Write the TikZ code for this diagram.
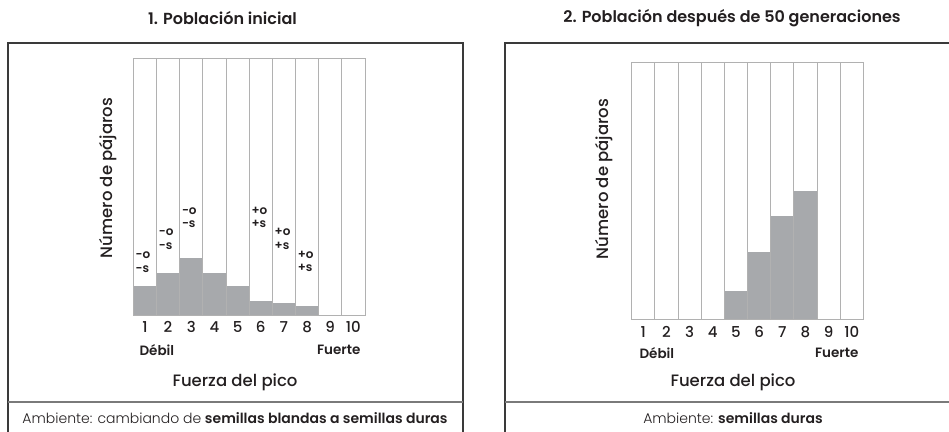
\documentclass[tikz,border=0pt]{standalone}
\usepackage{fontspec}
\setmainfont{Poppins}[BoldFont={Poppins SemiBold}]
\newfontfamily\lightfont{Poppins Light}
\newfontfamily\mediumfont{Poppins Medium}
\usetikzlibrary{positioning}
\definecolor{barfill}{HTML}{A7A9AC}
\definecolor{barline}{HTML}{B1B1B1}
\definecolor{framegray}{HTML}{3A3A3A}
\definecolor{rulegray}{HTML}{7A7A7A}
\definecolor{inkdark}{HTML}{231F20}
\begin{document}
\begin{tikzpicture}[x=1pt,y=-1pt,
  every node/.style={text=inkdark},
  frame/.style={draw=framegray,line width=1.3pt},
  divider/.style={draw=rulegray,line width=1.2pt},
  column/.style={draw=barline,line width=0.9pt},
  title/.style={font=\bfseries\fontsize{16}{18}\selectfont},
  axislabel/.style={font=\fontsize{16.5}{19}\selectfont},
  tick/.style={font=\mediumfont\fontsize{15}{18}\selectfont},
  endlabel/.style={font=\bfseries\fontsize{13.5}{15}\selectfont},
  tag/.style={font=\bfseries\fontsize{12}{13.5}\selectfont,align=left,inner sep=0pt},
  caption/.style={font=\fontsize{14}{16}\selectfont}]
\useasboundingbox (0,0) rectangle (949,431);

% 1. Poblacion inicial
\node[title] (title1) at (222.5,18) {1. Población inicial};
\draw[frame] (8,440) |- (463,43) -- (463,440);
\draw[divider] (8,402) -- (463,402);
\foreach \h [count=\i from 0] in {29,42.3,57.3,42.3,29,14.3,12.3,9,0,0} {
  \fill[barfill] ({133.3+23.17*\i},315) rectangle ++(23.17,-\h);
  \draw[column] ({133.3+23.17*\i},58.3) rectangle ++(23.17,256.7);
  \node[tick] (num1-\i) at ({133.3+23.17*(\i+0.5)},327) {\pgfmathparse{int(\i+1)}\pgfmathresult};
}
\node[tag,anchor=west] (tag1-1) at (135.5,262) {-o\\-s};
\node[tag,anchor=west] (tag1-2) at (158.7,239) {-o\\-s};
\node[tag,anchor=west] (tag1-3) at (181.8,217.5) {-o\\-s};
\node[tag,anchor=west] (tag1-6) at (251.4,217.5) {+o\\+s};
\node[tag,anchor=west] (tag1-7) at (274.5,239) {+o\\+s};
\node[tag,anchor=west] (tag1-8) at (297.7,261.5) {+o\\+s};
\node[axislabel,font=\mediumfont\fontsize{16.5}{19}\selectfont,rotate=90] (ylabel1) at (108,178) {Número de pájaros};
\node[endlabel,anchor=west] (weak1) at (136,350) {Débil};
\node[endlabel,anchor=east] (strong1) at (364,350) {Fuerte};
\node[axislabel,font=\mediumfont\fontsize{16.5}{19}\selectfont] (xlabel1) at (235,382) {Fuerza del pico};
\node[caption] (env1) at (235,418) {{\lightfont Ambiente: cambiando de} \textbf{semillas blandas a semillas duras}};

% 2. Poblacion despues de 50 generaciones
\node[title] (title2) at (732,18) {2. Población después de 50 generaciones};
\draw[frame] (505,440) |- (965,43);
\draw[divider] (505,402) -- (965,402);
\foreach \h [count=\i from 0] in {0,0,0,0,28.6,67.6,103.6,128.3,0,0} {
  \fill[barfill] ({631.7+23.17*\i},319.3) rectangle ++(23.17,-\h);
  \draw[column] ({631.7+23.17*\i},62.7) rectangle ++(23.17,256.6);
  \node[tick] (num2-\i) at ({631.7+23.17*(\i+0.5)},331.7) {\pgfmathparse{int(\i+1)}\pgfmathresult};
}
\node[axislabel,font=\mediumfont\fontsize{16.5}{19}\selectfont,rotate=90] (ylabel2) at (604,179) {Número de pájaros};
\node[endlabel,anchor=west] (weak2) at (636,353) {Débil};
\node[endlabel,anchor=east] (strong2) at (862,353) {Fuerte};
\node[axislabel,font=\mediumfont\fontsize{16.5}{19}\selectfont] (xlabel2) at (733,382) {Fuerza del pico};
\node[caption] (env2) at (733,418) {{\lightfont Ambiente:} \textbf{semillas duras}};
\end{tikzpicture}
\end{document}
